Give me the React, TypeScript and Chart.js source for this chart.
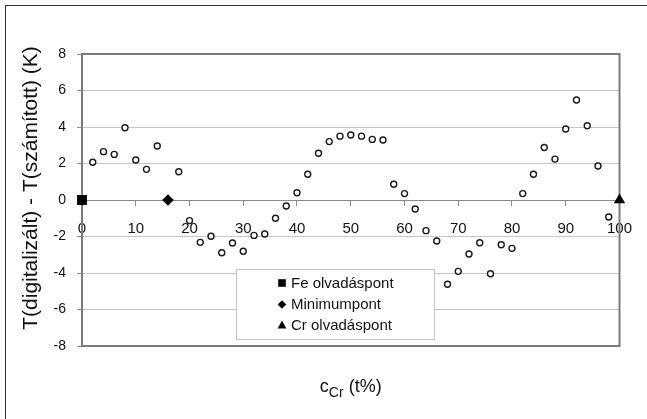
import { useEffect, useRef } from 'react';
import { Chart, registerables } from 'chart.js';

Chart.register(...registerables);

const crContent = [
  2, 4, 6, 8, 10, 12, 14, 18, 20, 22, 24, 26, 28, 30, 32, 34, 36, 38, 40, 42, 44, 46, 48, 50,
  52, 54, 56, 58, 60, 62, 64, 66, 68, 70, 72, 74, 76, 78, 80, 82, 84, 86, 88, 90, 92, 94, 96, 98,
];
// T(digitalizált) - T(számított) (K)
const deltaT = [
  2.07, 2.65, 2.5, 3.96, 2.19, 1.68, 2.96, 1.55, -1.13, -2.32, -1.99, -2.89, -2.36, -2.81, -1.94,
  -1.86, -1.0, -0.33, 0.4, 1.41, 2.56, 3.2, 3.5, 3.56, 3.5, 3.32, 3.29, 0.86, 0.35, -0.49, -1.68,
  -2.25, -4.62, -3.91, -2.96, -2.34, -4.04, -2.45, -2.65, 0.35, 1.41, 2.88, 2.24, 3.89, 5.48, 4.07,
  1.86, -0.93,
];

const specialLabels = ['Fe olvadáspont', 'Minimumpont', 'Cr olvadáspont'];
const specialX = [0, 16, 100];
const specialY = [0, 0, 0];

const xMin = 0;
const xMax = 100;
const xStep = 10;
const yMin = -8;
const yMax = 8;
const yStep = 2;

const yTitle = 'T(digitalizált) - T(számított) (K)';
const xTitleMain = 'c';
const xTitleSub = 'Cr';
const xTitleRest = ' (t%)';

const FONT = 'Arial, "Liberation Sans", Helvetica, sans-serif';

function drawMarker(ctx: CanvasRenderingContext2D, style: string, x: number, y: number, r: number) {
  ctx.beginPath();
  if (style === 'rect') {
    ctx.rect(x - r, y - r, 2 * r, 2 * r);
  } else if (style === 'rectRot') {
    ctx.moveTo(x - r, y);
    ctx.lineTo(x, y - r);
    ctx.lineTo(x + r, y);
    ctx.lineTo(x, y + r);
    ctx.closePath();
  } else {
    ctx.moveTo(x, y - r);
    ctx.lineTo(x + r * 0.95, y + r * 0.75);
    ctx.lineTo(x - r * 0.95, y + r * 0.75);
    ctx.closePath();
  }
  ctx.fill();
}

const decorPlugin = {
  id: 'decor',
  beforeDatasetsDraw(chart: any) {
    const { ctx, chartArea: ca } = chart;
    ctx.save();
    ctx.strokeStyle = '#7a7a7a';
    ctx.lineWidth = 2;
    ctx.strokeRect(ca.left, ca.top, ca.right - ca.left, ca.bottom - ca.top);
    ctx.restore();
  },
  afterDraw(chart: any) {
    const { ctx, chartArea: ca } = chart;
    ctx.save();
    // outer border
    ctx.strokeStyle = '#333';
    ctx.lineWidth = 1;
    ctx.strokeRect(5.5, 5.5, chart.width + 20, chart.height + 20);

    // legend
    const lx = ca.left + 154;
    const ly = ca.top + 215;
    const lw = 198;
    const lh = 70;
    ctx.fillStyle = '#fff';
    ctx.fillRect(lx, ly, lw, lh);
    ctx.strokeStyle = '#c4c4c4';
    ctx.lineWidth = 1;
    ctx.strokeRect(lx + 0.5, ly + 0.5, lw, lh);
    const styles = ['rect', 'rectRot', 'triangle'];
    const sizes = [3.8, 4.3, 4.6];
    const rowY = [ly + 14, ly + 35.5, ly + 56];
    ctx.font = `15px ${FONT}`;
    ctx.textBaseline = 'middle';
    ctx.textAlign = 'left';
    for (let i = 0; i < 3; i++) {
      const ds = chart.data.datasets[i + 1];
      ctx.fillStyle = '#000';
      drawMarker(ctx, styles[i], lx + 46, rowY[i], sizes[i]);
      ctx.fillStyle = '#111';
      ctx.fillText(ds.label, lx + 55, rowY[i] + 0.5);
    }

    // y title
    ctx.save();
    ctx.translate(31, 188);
    ctx.rotate(-Math.PI / 2);
    ctx.font = `21px ${FONT}`;
    ctx.fillStyle = '#111';
    ctx.textAlign = 'center';
    ctx.textBaseline = 'middle';
    ctx.fillText(yTitle, 0, 0);
    ctx.restore();

    // x title with subscript
    const mainFont = `18px ${FONT}`;
    const subFont = `14px ${FONT}`;
    ctx.textBaseline = 'alphabetic';
    ctx.textAlign = 'left';
    ctx.font = mainFont;
    const w1 = ctx.measureText(xTitleMain).width;
    const w3 = ctx.measureText(xTitleRest).width;
    ctx.font = subFont;
    const w2 = ctx.measureText(xTitleSub).width;
    const total = w1 + w2 + w3;
    let x = (ca.left + ca.right) / 2 - total / 2;
    const base = 392;
    ctx.fillStyle = '#111';
    ctx.font = mainFont;
    ctx.fillText(xTitleMain, x, base);
    x += w1;
    ctx.font = subFont;
    ctx.fillText(xTitleSub, x, base + 5);
    x += w2;
    ctx.font = mainFont;
    ctx.fillText(xTitleRest, x, base);
    ctx.restore();
  },
};

export default function App() {
  const ref = useRef<HTMLCanvasElement | null>(null);
  useEffect(() => {
    if (!ref.current) return;
    const points = crContent.map((c, i) => ({ x: c, y: deltaT[i] }));
    const styles = ['rect', 'rectRot', 'triangle'];
    const radii = [7, 5.8, 6.6];
    const specials = specialLabels.map((label, i) => ({
      label,
      data: [{ x: specialX[i], y: specialY[i] }],
      pointStyle: styles[i],
      pointRadius: radii[i],
      pointBackgroundColor: '#000',
      pointBorderColor: '#000',
      pointBorderWidth: 0,
      showLine: false,
      clip: false as any,
    }));
    const chart = new Chart(ref.current, {
      type: 'scatter',
      data: {
        datasets: [
          {
            label: 'adatok',
            data: points,
            pointStyle: 'circle',
            pointRadius: 3,
            pointBackgroundColor: '#fff',
            pointBorderColor: '#1a1a1a',
            pointBorderWidth: 1.4,
            showLine: false,
            clip: false as any,
          },
          ...specials,
        ] as any,
      },
      options: {
        animation: false,
        responsive: true,
        maintainAspectRatio: false,
        layout: { padding: { left: 0, right: 15, top: 54, bottom: 73 } },
        plugins: {
          legend: { display: false },
          tooltip: { enabled: false },
        },
        scales: {
          x: {
            type: 'linear',
            min: xMin,
            max: xMax,
            position: { y: 0 } as any,
            ticks: {
              stepSize: xStep,
              font: { size: 15, family: FONT },
              color: '#111',
              padding: 15,
              maxRotation: 0,
            },
            grid: {
              drawOnChartArea: false,
              drawTicks: true,
              tickLength: 5,
              tickColor: '#8a8a8a',
            },
            border: { display: true, color: '#8a8a8a', width: 1 },
          },
          y: {
            type: 'linear',
            min: yMin,
            max: yMax,
            position: 'left',
            afterFit(scale: any) {
              scale.width = 82;
            },
            ticks: {
              stepSize: yStep,
              font: { size: 14, family: FONT },
              color: '#111',
              padding: 11,
            },
            grid: {
              color: '#c6c6c6',
              lineWidth: 1,
              drawTicks: true,
              tickLength: 5,
              tickColor: '#8a8a8a',
            },
            border: { display: true, color: '#7a7a7a', width: 2 },
          },
        },
      },
      plugins: [decorPlugin],
    });
    return () => chart.destroy();
  }, []);
  return (
    <div style={{ position: 'absolute', left: 0, top: 0, width: 647, height: 419, background: '#fff' }}>
      <canvas ref={ref} />
    </div>
  );
}
